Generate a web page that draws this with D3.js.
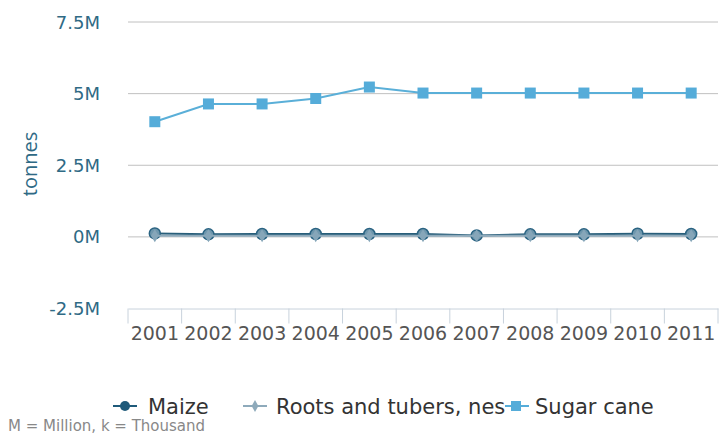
<!DOCTYPE html>
<html>
<head>
<meta charset="utf-8">
<script src="https://cdn.jsdelivr.net/npm/d3@7"></script>
<style>
  body { margin: 0; background: #fff; }
  svg { display: block; }
</style>
</head>
<body>
<svg id="chart"></svg>
<script>
const width = 719;
const height = 434;

const years = ['2001','2002','2003','2004','2005','2006','2007','2008','2009','2010','2011'];
const maize = [0.12, 0.09, 0.1, 0.1, 0.1, 0.1, 0.05, 0.09, 0.09, 0.11, 0.1];
const roots = [0.04, 0.04, 0.04, 0.04, 0.04, 0.04, 0.04, 0.04, 0.04, 0.04, 0.04];
const sugarCane = [4.02, 4.64, 4.64, 4.83, 5.23, 5.02, 5.02, 5.02, 5.02, 5.02, 5.02];
const yTicks = [-2.5, 0, 2.5, 5, 7.5];
const yTickLabels = ['-2.5M', '0M', '2.5M', '5M', '7.5M'];

const svg = d3.select('#chart').attr('width', width).attr('height', height);

const x = d3.scaleBand().domain(years).range([128, 718]);
const y = d3.scaleLinear().domain([-2.5, 7.5]).range([308.5, 22]);

// grid
svg.append('g').selectAll('line').data(yTicks.filter(d => d > -2.5))
  .enter().append('line')
  .attr('x1', 128).attr('x2', 718)
  .attr('y1', d => y(d)).attr('y2', d => y(d))
  .attr('stroke', '#c0c0c0').attr('stroke-width', 1);

// y labels
svg.append('g').selectAll('text').data(yTicks)
  .enter().append('text')
  .attr('x', 100).attr('y', d => y(d) + 6.5)
  .attr('text-anchor', 'end')
  .attr('font-family', 'DejaVu Sans')
  .attr('font-size', 18)
  .attr('fill', '#2f6a85')
  .text((d, i) => yTickLabels[i]);

svg.append('text')
  .attr('transform', 'translate(37,164) rotate(-90)')
  .attr('text-anchor', 'middle')
  .attr('font-family', 'Open Sans')
  .attr('font-size', 20)
  .attr('fill', '#2f6a85')
  .text('tonnes');

// x axis
const xAxis = svg.append('g').attr('transform', `translate(0,${y(-2.5)})`)
  .call(d3.axisBottom(x).tickSize(0).tickPadding(18));
xAxis.select('.domain').attr('stroke', '#c8d2dc');
xAxis.selectAll('text')
  .attr('font-family', 'DejaVu Sans')
  .attr('font-size', 19)
  .attr('fill', '#555');
const boundaries = years.map(d => x(d)).concat([x.range()[1]]);
svg.append('g').selectAll('line').data(boundaries)
  .enter().append('line')
  .attr('x1', d => d).attr('x2', d => d)
  .attr('y1', y(-2.5)).attr('y2', y(-2.5) + 15)
  .attr('stroke', '#c8d2dc');

const cx = d => x(d) + x.bandwidth() / 2;
const line = vals => d3.line().x((d, i) => cx(years[i])).y(d => y(d))(vals);

// sugar cane
svg.append('path').attr('d', line(sugarCane))
  .attr('fill', 'none').attr('stroke', '#5aafd8').attr('stroke-width', 2);
svg.append('g').selectAll('rect').data(sugarCane)
  .enter().append('rect')
  .attr('x', (d, i) => cx(years[i]) - 5.5)
  .attr('y', d => y(d) - 5.5)
  .attr('width', 11).attr('height', 11)
  .attr('fill', '#55acd9');

// maize
svg.append('path').attr('d', line(maize))
  .attr('fill', 'none').attr('stroke', '#285e7a').attr('stroke-width', 2);
svg.append('g').selectAll('circle').data(maize)
  .enter().append('circle')
  .attr('cx', (d, i) => cx(years[i]))
  .attr('cy', d => y(d))
  .attr('r', 5.5)
  .attr('fill', '#6f97ad')
  .attr('stroke', '#2a6382')
  .attr('stroke-width', 1.5);

// roots and tubers
svg.append('path').attr('d', line(roots))
  .attr('fill', 'none').attr('stroke', '#8eaabb').attr('stroke-width', 2);
const diamond = d3.symbol().type(d3.symbolDiamond).size(50);
svg.append('g').selectAll('path').data(roots)
  .enter().append('path')
  .attr('transform', (d, i) => `translate(${cx(years[i])},${y(d)})`)
  .attr('d', diamond)
  .attr('fill', '#86a6b9');

// legend
const legend = svg.append('g').attr('font-family', 'DejaVu Sans').attr('font-size', 21).attr('fill', '#333');
const ly = 406;
const items = [
  { name: 'Maize', x: 113, tx: 148, color: '#1f5a7a', type: 'circle' },
  { name: 'Roots and tubers, nes', x: 243, tx: 276, color: '#8eaabb', type: 'diamond' },
  { name: 'Sugar cane', x: 505, tx: 535, color: '#55acd9', type: 'square' }
];
items.forEach(it => {
  legend.append('text').attr('x', it.tx).attr('y', ly + 7.5).text(it.name);
  legend.append('line').attr('x1', it.x).attr('x2', it.x + 24)
    .attr('y1', ly).attr('y2', ly).attr('stroke', it.color).attr('stroke-width', 2);
  if (it.type === 'circle') {
    legend.append('circle').attr('cx', it.x + 12).attr('cy', ly).attr('r', 5).attr('fill', it.color);
  } else if (it.type === 'diamond') {
    legend.append('path').attr('transform', `translate(${it.x + 12},${ly})`)
      .attr('d', d3.symbol().type(d3.symbolDiamond).size(40)).attr('fill', it.color);
  } else {
    legend.append('rect').attr('x', it.x + 6).attr('y', ly - 5).attr('width', 10).attr('height', 10).attr('fill', it.color);
  }
});

svg.append('text')
  .attr('x', 8).attr('y', 431)
  .attr('font-family', 'DejaVu Sans')
  .attr('font-size', 15)
  .attr('fill', '#888')
  .text('M = Million, k = Thousand');
</script>
</body>
</html>
